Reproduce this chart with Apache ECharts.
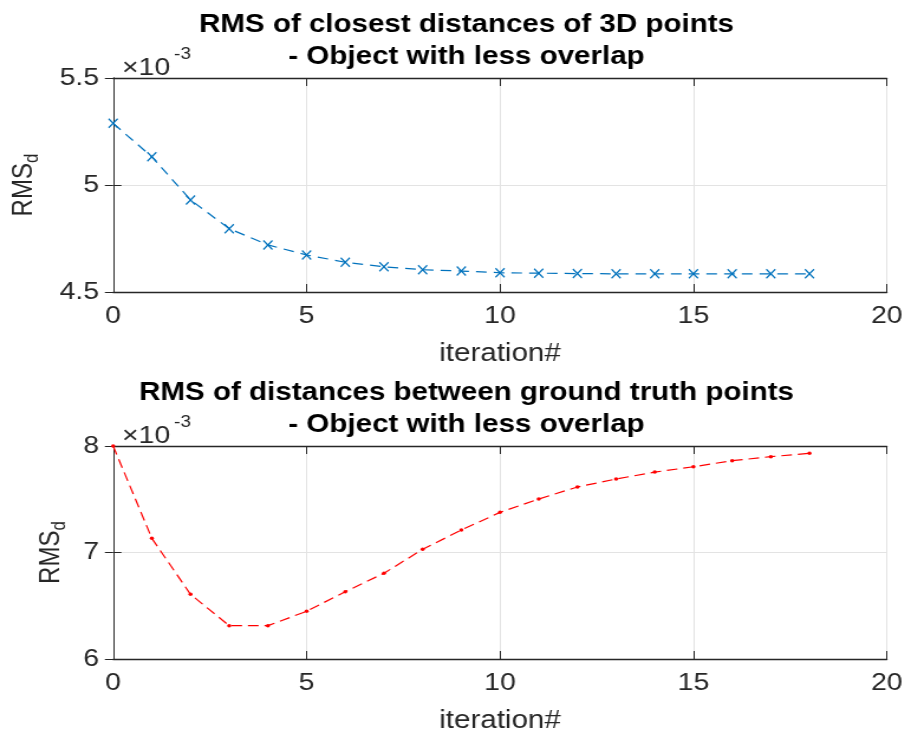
<!DOCTYPE html>
<html><head><meta charset="utf-8">
<script src="https://cdn.jsdelivr.net/npm/echarts@6/dist/echarts.min.js"></script>
<style>html,body{margin:0;padding:0;background:#fff;overflow:hidden}#wrap{width:905px;height:736px;overflow:hidden}#c{height:736px;transform-origin:0 0}</style>
</head><body><div id="wrap"><div id="c"></div></div>
<script>
const iterations = [0,1,2,3,4,5,6,7,8,9,10,11,12,13,14,15,16,17,18];
const rmsClosest = [5.288,5.132,4.930,4.796,4.720,4.673,4.639,4.618,4.604,4.598,4.590,4.588,4.586,4.585,4.585,4.585,4.585,4.585,4.585];
const rmsGroundTruth = [8.000,7.133,6.607,6.313,6.313,6.448,6.632,6.805,7.030,7.211,7.377,7.502,7.615,7.690,7.755,7.805,7.862,7.900,7.931];
const xTicks = [0,5,10,15,20];
const topYTicks = [4.5,5,5.5];
const botYTicks = [6,7,8];
const title1 = ['RMS of closest distances of 3D points','- Object with less overlap'];
const title2 = ['RMS of distances between ground truth points','- Object with less overlap'];

// the reference picture is stretched horizontally; render narrower then stretch
const S = 1.18;
const W = 905 / S;
const el = document.getElementById('c');
el.style.width = W + 'px';
el.style.transform = 'scaleX(' + S + ')';

const FONT = 'Liberation Sans, Arial, Helvetica, sans-serif';
const AX = '#262626';
const xMark = 'path://M0,1L1,0L5,4L9,0L10,1L6,5L10,9L9,10L5,6L1,10L0,9L4,5Z';
const gridLeft = 113 / S, gridW = 776 / S;

function xAxes(gi){
  return [{
    type:'value', gridIndex:gi, min:xTicks[0], max:xTicks[xTicks.length-1], interval:5,
    name:'iteration#', nameLocation:'middle', nameGap:50,
    nameTextStyle:{fontFamily:FONT,fontSize:25,color:AX},
    axisLine:{show:true,lineStyle:{color:AX,width:1.3}},
    axisTick:{show:true,inside:true,length:8,lineStyle:{color:AX,width:1}},
    axisLabel:{fontFamily:FONT,fontSize:24,color:AX,margin:12},
    splitLine:{show:true,lineStyle:{color:'#e3e3e3',width:1}}
  },{
    type:'value', gridIndex:gi, position:'top', min:xTicks[0], max:xTicks[xTicks.length-1], interval:5,
    axisLine:{show:true,lineStyle:{color:AX,width:1.3}},
    axisTick:{show:true,inside:true,length:8,lineStyle:{color:AX,width:1}},
    axisLabel:{show:false}, splitLine:{show:false}
  }];
}
function yAxes(gi, ticks, interval, gap){
  return [{
    type:'value', gridIndex:gi, min:ticks[0], max:ticks[ticks.length-1], interval:interval,
    name:'{a|RMS}{b|d}', nameLocation:'middle', nameGap:gap, nameRotate:90,
    nameTextStyle:{rich:{a:{fontFamily:FONT,fontSize:24,color:AX},b:{fontFamily:FONT,fontSize:17,color:AX,padding:[14,0,0,0]}}},
    axisLine:{show:true,lineStyle:{color:AX,width:1}},
    axisTick:{show:true,inside:true,length:7,lineStyle:{color:AX,width:1}},
    axisLabel:{fontFamily:FONT,fontSize:24,color:AX,margin:12,formatter:v=>String(v)},
    splitLine:{show:true,lineStyle:{color:'#e3e3e3',width:1}}
  },{
    type:'value', gridIndex:gi, position:'right', min:ticks[0], max:ticks[ticks.length-1], interval:interval,
    axisLine:{show:true,lineStyle:{color:AX,width:1}},
    axisTick:{show:true,inside:true,length:7,lineStyle:{color:AX,width:1}},
    axisLabel:{show:false}, splitLine:{show:false}
  }];
}

const chart = echarts.init(el, null, {renderer:'canvas', width:W, height:736});
const titleStyle = {fontFamily:FONT,fontSize:25,fontWeight:'bold',color:'#000',lineHeight:32};
const expStyle = {fontFamily:FONT,fontSize:24,fontWeight:'normal',color:AX};
const supStyle = {fontFamily:FONT,fontSize:16,fontWeight:'normal',color:AX};
const TC = 460 / S;
chart.setOption({
  backgroundColor:'#fff',
  animation:false,
  title:[
    {text:title1.join('\n'), left:TC, textAlign:'center', top:4, textStyle:titleStyle},
    {text:title2.join('\n'), left:TC, textAlign:'center', top:372, textStyle:titleStyle},
    {text:'\u00d710', left:116/S, top:51, textStyle:expStyle},
    {text:'-3', left:168/S, top:42, textStyle:supStyle},
    {text:'\u00d710', left:116/S, top:419, textStyle:expStyle},
    {text:'-3', left:168/S, top:410, textStyle:supStyle}
  ],
  grid:[
    {left:gridLeft, width:gridW, top:78, height:214},
    {left:gridLeft, width:gridW, top:446, height:213}
  ],
  xAxis:[...xAxes(0), ...xAxes(1)],
  yAxis:[...yAxes(0, topYTicks, 0.5, 60), ...yAxes(1, botYTicks, 1, 37)],
  series:[
    {type:'line', xAxisIndex:0, yAxisIndex:0, data:iterations.map((x,i)=>[x,rmsClosest[i]]),
     symbol:xMark, symbolSize:[8.5,10], itemStyle:{color:'#0072BD'},
     lineStyle:{color:'#0072BD',width:1.2,type:[9,6]}},
    {type:'line', xAxisIndex:2, yAxisIndex:2, data:iterations.map((x,i)=>[x,rmsGroundTruth[i]]),
     symbol:'circle', symbolSize:3.5, itemStyle:{color:'#ff0000'},
     lineStyle:{color:'#ff0000',width:1.2,type:[9,5]}}
  ]
});
</script></body></html>
